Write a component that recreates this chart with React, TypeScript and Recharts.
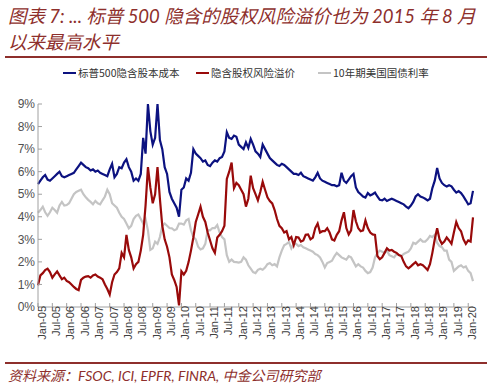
import React from 'react';
import { LineChart, Line, XAxis, YAxis, Legend } from 'recharts';

const years = ['05', '06', '07', '08', '09', '10', '11', '12', '13', '14', '15', '16', '17', '18', '19', '20'];
const monthNames = ['Jan', 'Feb', 'Mar', 'Apr', 'May', 'Jun', 'Jul', 'Aug', 'Sep', 'Oct', 'Nov', 'Dec'];

// 标普500隐含股本成本 (%), monthly Jan-05 .. Mar-20
const costOfEquity = [
    5.45, 5.6, 5.75, 5.85, 5.65, 5.6, 5.7, 5.8, 5.9, 6.0, 5.8, 5.75,
    5.8, 5.85, 5.9, 5.95, 6.1, 6.25, 6.4, 6.3, 6.2, 6.15, 6.05, 6.1,
    6.0, 6.05, 5.95, 5.9, 5.85, 5.8, 6.1, 6.35, 5.75, 5.9, 6.2, 6.15,
    6.4, 6.55, 6.2, 6.0, 5.6, 5.7, 5.6, 5.9, 7.5, 6.8, 9.0, 7.8,
    7.2, 7.5, 9.0, 7.4, 7.0, 6.2, 5.9, 5.1, 4.8, 4.6, 4.4, 4.0,
    5.2, 5.3, 5.7, 5.6, 5.95, 7.0, 6.8, 6.7, 6.6, 6.45, 6.5, 6.3,
    6.25, 6.4, 6.5, 6.45, 6.6, 6.65, 6.9, 7.75, 7.5, 7.45, 7.6, 7.55,
    7.2, 7.1, 7.0, 7.3, 7.05, 7.45, 7.2, 6.9, 6.8, 6.65, 7.2, 7.0,
    6.8, 6.6, 6.5, 6.4, 6.3, 6.25, 6.35, 6.3, 6.2, 6.1, 6.0, 5.9,
    5.9, 5.85, 5.95, 5.8, 5.75, 5.7, 5.65, 5.6, 5.75, 5.95, 5.7, 5.6,
    5.55, 5.5, 5.45, 5.4, 5.4, 5.35, 5.4, 5.95, 5.6, 5.5, 5.65, 5.8,
    5.9, 5.3, 5.1, 5.0, 4.9, 4.85, 5.05, 4.95, 5.0, 5.07, 4.9, 4.75,
    4.73, 4.8, 4.7, 4.75, 4.8, 4.75, 4.7, 4.65, 4.6, 4.55, 4.45, 4.38,
    4.5, 4.66, 4.9, 5.0, 4.9, 4.86, 4.8, 4.73, 4.8, 5.27, 5.6, 6.16,
    5.7, 5.5, 5.4, 5.34, 5.4, 5.35, 5.2, 5.07, 5.14, 5.05, 4.9, 4.73,
    4.55, 4.6, 5.15,
];

// 隐含股权风险溢价 (%)
const riskPremium = [
    0.96, 1.4, 1.5, 1.64, 1.7, 1.55, 1.3, 1.45, 1.58, 1.4, 1.23, 1.3,
    1.16, 1.1, 1.0, 0.89, 0.8, 0.75, 1.2, 1.3, 1.35, 1.37, 1.3, 1.4,
    1.44, 1.35, 1.3, 1.23, 1.0, 0.8, 0.55, 1.1, 1.44, 1.55, 1.71, 2.4,
    2.2, 3.2, 2.53, 2.2, 1.71, 1.9, 2.0, 2.5, 3.2, 4.5, 6.2, 5.3,
    4.6, 5.0, 6.2, 4.8, 3.6, 3.0, 2.67, 2.2, 1.44, 1.2, 0.89, 0.07,
    1.58, 1.44, 1.6, 1.99, 2.5, 3.08, 3.77, 4.1, 4.45, 4.0, 3.77, 3.3,
    2.95, 2.6, 2.4, 3.08, 3.2, 3.36, 3.6, 5.68, 6.0, 6.4, 5.27, 5.5,
    5.4, 5.2, 5.0, 4.45, 4.8, 5.82, 5.27, 5.0, 4.73, 5.1, 5.55, 5.2,
    4.86, 4.7, 4.59, 4.3, 3.9, 3.6, 3.49, 3.3, 3.36, 3.0, 3.1, 2.74,
    3.1, 3.08, 2.9, 2.95, 3.2, 3.22, 3.0, 3.08, 3.5, 3.7, 3.3, 3.36,
    3.36, 3.49, 3.3, 3.0, 2.95, 3.2, 3.36, 3.84, 4.2, 3.5, 3.22, 3.4,
    4.3, 3.8, 3.49, 3.36, 3.4, 3.84, 3.5, 3.3, 3.22, 3.2, 2.26, 2.12,
    2.2, 2.4, 2.6, 2.5, 2.53, 2.45, 2.4, 2.3, 2.26, 2.0, 1.8, 1.71,
    1.8, 1.9, 1.99, 1.85, 1.9, 1.85, 1.75, 1.64, 1.9, 2.4, 3.0, 3.49,
    3.0, 2.8, 2.9, 3.08, 2.95, 2.8, 3.3, 3.77, 3.5, 3.36, 3.0, 2.8,
    2.95, 2.9, 3.97,
];

// 10年期美国国债利率 (%)
const treasury10y = [
    4.18, 4.3, 4.45, 4.2, 4.04, 4.2, 4.4, 4.3, 4.18, 4.5, 4.66, 4.5,
    4.52, 4.6, 4.8, 5.0, 5.1, 5.15, 5.2, 5.0, 4.86, 4.75, 4.66, 4.55,
    4.7, 4.6, 4.55, 4.73, 4.9, 5.2, 5.0, 4.6, 4.5, 4.4, 4.18, 4.0,
    3.9, 3.7, 3.49, 3.6, 3.9, 4.04, 4.1, 3.9, 3.7, 3.9, 3.4, 2.53,
    2.6, 2.9, 2.8, 3.1, 3.6, 3.7, 3.6, 3.5, 3.49, 3.4, 3.45, 3.7,
    3.7, 3.65, 3.84, 3.9, 3.4, 3.1, 3.0, 2.67, 2.55, 2.6, 2.8, 3.42,
    3.4, 3.5, 3.5, 3.63, 3.3, 3.1, 3.0, 2.3, 2.0, 2.1, 2.0, 1.99,
    1.97, 2.0, 2.2, 2.1, 1.85, 1.7, 1.55, 1.5, 1.65, 1.7, 1.65, 1.75,
    1.9, 1.95, 1.85, 1.9, 1.8, 2.2, 2.5, 2.74, 2.8, 2.88, 2.6, 2.8,
    2.8, 2.7, 2.75, 2.65, 2.6, 2.55, 2.5, 2.45, 2.35, 2.3, 2.2, 2.0,
    1.75, 1.95, 2.0, 2.05, 2.25, 2.4, 2.3, 2.2, 2.15, 2.1, 2.25, 2.2,
    2.0, 1.8, 1.9, 1.8, 1.75, 1.6, 1.5, 1.55, 1.75, 2.2, 2.4, 2.5,
    2.45, 2.4, 2.5, 2.3, 2.25, 2.2, 2.35, 2.3, 2.25, 2.35, 2.4, 2.45,
    2.6, 2.85, 2.8, 2.9, 3.0, 2.9, 2.9, 3.0, 3.15, 3.1, 3.2, 2.85,
    2.7, 2.65, 2.5, 2.5, 2.1, 2.0, 1.6, 1.7, 1.8, 1.85, 1.75, 1.8,
    1.6, 1.5, 1.15,
];

const xTicks = years.flatMap(y => (y === '20' ? ['Jan-20'] : [`Jan-${y}`, `Jul-${y}`]));
const yTicks = [0, 1, 2, 3, 4, 5, 6, 7, 8, 9];

const seriesInfo = [
    { key: 'cost', name: '标普500隐含股本成本', color: '#0c1280' },
    { key: 'erp', name: '隐含股权风险溢价', color: '#990a0a' },
    { key: 'ust', name: '10年期美国国债利率', color: '#c4c4c4' },
];

const dates = years.flatMap(y => monthNames.map(m => `${m}-${y}`)).slice(0, costOfEquity.length);
const chartData = dates.map((d, i) => ({
    date: d,
    cost: costOfEquity[i],
    erp: riskPremium[i],
    ust: treasury10y[i],
}));

const DARK_RED = '#8e2f2c';
const legendLefts = [63, 196, 318];

const renderLegend = () => (
    <div style={{ position: 'relative', height: 16 }}>
        {seriesInfo.map((s, i) => (
            <div key={s.key} style={{ position: 'absolute', left: legendLefts[i], top: 0, display: 'flex', alignItems: 'center', whiteSpace: 'nowrap' }}>
                <span style={{ display: 'inline-block', width: 13, height: 2, background: s.color, marginRight: 2 }} />
                <span style={{ fontSize: 10.5, color: '#333', fontFamily: '"Noto Sans CJK SC", sans-serif' }}>{s.name}</span>
            </div>
        ))}
    </div>
);

const App: React.FC = () => {
    return (
        <div style={{ position: 'absolute', left: 0, top: 0, width: 500, height: 385, background: '#fff', overflow: 'hidden' }}>
            <div style={{ position: 'absolute', left: 8, top: 3, fontSize: 18.5, lineHeight: '26px', fontStyle: 'italic', color: DARK_RED, fontFamily: 'Lato, "Noto Sans CJK SC", sans-serif', whiteSpace: 'nowrap' }}>
                图表 7: ... 标普 500 隐含的股权风险溢价也为 2015 年 8 月<br />以来最高水平
            </div>
            <div style={{ position: 'absolute', left: 5, top: 56, width: 482, height: 1.5, background: DARK_RED }} />

            <div style={{ position: 'absolute', left: 0, top: 0 }}>
                <LineChart width={500} height={350} data={chartData} margin={{ top: 88, right: 27, left: 0, bottom: 0 }}>
                    <Legend verticalAlign="top" content={renderLegend} wrapperStyle={{ top: 65, left: 0, width: 500 }} />
                    <XAxis
                        dataKey="date"
                        ticks={xTicks}
                        interval={0}
                        height={43}
                        stroke="#a0a0a0"
                        tickSize={-4}
                        tickMargin={7}
                        angle={-90}
                        textAnchor="end"
                        tick={{ fontSize: 11, fill: '#404040', fontFamily: '"Liberation Sans", Arial, sans-serif', dy: -4 }}
                    />
                    <YAxis
                        domain={[0, 9]}
                        ticks={yTicks}
                        width={38}
                        stroke="#a0a0a0"
                        tickSize={-4}
                        tickMargin={7}
                        tickFormatter={(v: number) => `${v}%`}
                        tick={{ fontSize: 12, fill: '#505050', fontFamily: '"Liberation Sans", Arial, sans-serif' }}
                    />
                    <Line type="linear" dataKey="ust" name={seriesInfo[2].name} stroke={seriesInfo[2].color} strokeWidth={2.2} dot={false} isAnimationActive={false} />
                    <Line type="linear" dataKey="erp" name={seriesInfo[1].name} stroke={seriesInfo[1].color} strokeWidth={2.2} dot={false} isAnimationActive={false} />
                    <Line type="linear" dataKey="cost" name={seriesInfo[0].name} stroke={seriesInfo[0].color} strokeWidth={2.2} dot={false} isAnimationActive={false} />
                </LineChart>
            </div>

            <div style={{ position: 'absolute', left: 5, top: 362, width: 482, height: 1.5, background: DARK_RED }} />
            <div style={{ position: 'absolute', left: 8, top: 365, fontSize: 14, fontStyle: 'italic', color: DARK_RED, fontFamily: 'Lato, "Noto Sans CJK SC", sans-serif', whiteSpace: 'nowrap' }}>
                资料来源：FSOC, ICI, EPFR, FINRA, 中金公司研究部
            </div>
        </div>
    );
};

export default App;
